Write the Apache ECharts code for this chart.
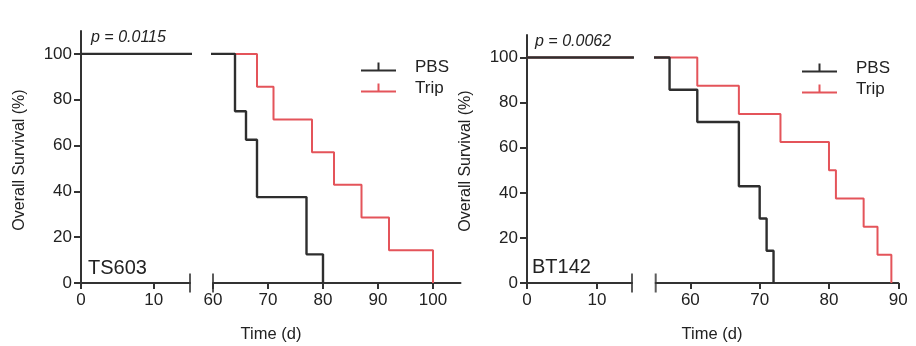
<!DOCTYPE html>
<html>
<head>
<meta charset="utf-8">
<script src="https://cdn.jsdelivr.net/npm/echarts@6/dist/echarts.min.js"></script>
<style>
html,body{margin:0;padding:0;background:#fff;}
#chart{width:916px;height:346px;}
</style>
</head>
<body>
<div id="chart"></div>
<script>
// ---- data ----
const seriesNames = ['PBS', 'Trip'];
// TS603 panel
const ts603PbsTime = [0, 64, 66, 68, 77, 80];
const ts603PbsSurv = [100, 75, 62.5, 37.5, 12.5, 0];
const ts603TripTime = [0, 68, 71, 78, 82, 87, 92, 100];
const ts603TripSurv = [100, 85.7, 71.4, 57.1, 42.9, 28.6, 14.3, 0];
// BT142 panel
const bt142PbsTime = [0, 57, 61, 67, 70, 71, 72];
const bt142PbsSurv = [100, 85.7, 71.4, 42.9, 28.6, 14.3, 0];
const bt142TripTime = [0, 61, 67, 73, 80, 81, 85, 87, 89];
const bt142TripSurv = [100, 87.5, 75, 62.5, 50, 37.5, 25, 12.5, 0];
// axis ranges / ticks
const leftSegRange = [0, 15];
const leftSegTicks = [0, 10];
const ts603RightRange = [60, 105];
const ts603RightTicks = [60, 70, 80, 90, 100];
const bt142RightRange = [55, 90];
const bt142RightTicks = [60, 70, 80, 90];
const yRange = [0, 110];
const yTicks = [0, 20, 40, 60, 80, 100];
const pValues = ['p = 0.0115', 'p = 0.0062'];
const panelNames = ['TS603', 'BT142'];

// ---- styles ----
const BLACK = '#2e2e2e';
const RED = '#e4545a';
const AXIS = '#333';
const TXT = '#222';
const FONT = 'Liberation Sans, Arial, Helvetica, sans-serif';

function pts(t, s) { return t.map((v, i) => [v, s[i]]); }

const grids = [
  { left: 81, top: 31, width: 109, height: 252 },
  { left: 213, top: 31, width: 247.5, height: 252 },
  { left: 527, top: 35, width: 105, height: 248 },
  { left: 655.7, top: 35, width: 242.6, height: 248 }
];
const xRanges = [leftSegRange, ts603RightRange, leftSegRange, bt142RightRange];
const xTickVals = [leftSegTicks, ts603RightTicks, leftSegTicks, bt142RightTicks];
const breakAt = [leftSegRange[1], ts603RightRange[0], leftSegRange[1], bt142RightRange[0]];

const xAxes = grids.map((g, i) => ({
  type: 'value', gridIndex: i, min: xRanges[i][0], max: xRanges[i][1],
  axisLine: { show: true, onZero: false, lineStyle: { color: AXIS, width: 2 } },
  axisTick: { show: true, length: 6, inside: false, customValues: xTickVals[i], lineStyle: { color: AXIS, width: 2 } },
  axisLabel: { customValues: xTickVals[i], margin: 9, fontSize: 17, color: TXT, fontFamily: FONT },
  splitLine: { show: false }
}));
const yAxes = grids.map((g, i) => ({
  type: 'value', gridIndex: i, min: yRange[0], max: yRange[1],
  show: (i === 0 || i === 2),
  axisLine: { show: true, lineStyle: { color: AXIS, width: 2 } },
  axisTick: { show: true, length: 7, customValues: yTicks, lineStyle: { color: AXIS, width: 2 } },
  axisLabel: { customValues: yTicks, margin: 9, fontSize: 17, color: TXT, fontFamily: FONT },
  splitLine: { show: false }
}));

const panelData = [
  { pbs: pts(ts603PbsTime, ts603PbsSurv), trip: pts(ts603TripTime, ts603TripSurv) },
  { pbs: pts(bt142PbsTime, bt142PbsSurv), trip: pts(bt142TripTime, bt142TripSurv) }
];

const series = [];
grids.forEach((g, i) => {
  const p = panelData[i < 2 ? 0 : 1];
  series.push({
    type: 'line', name: seriesNames[1], xAxisIndex: i, yAxisIndex: i, data: p.trip,
    step: 'end', showSymbol: false, symbol: 'none', clip: true, color: RED,
    lineStyle: { color: RED, width: 2 }, animation: false, z: 2
  });
  series.push({
    type: 'line', name: seriesNames[0], xAxisIndex: i, yAxisIndex: i, data: p.pbs,
    step: 'end', showSymbol: false, symbol: 'none', clip: true, color: BLACK,
    lineStyle: { color: BLACK, width: 2.4 }, animation: false, z: 3
  });
  series.push({
    type: 'scatter', name: 'break', xAxisIndex: i, yAxisIndex: i, data: [[breakAt[i], yRange[0]]],
    symbol: 'rect', symbolSize: [2, 19], clip: false, itemStyle: { color: AXIS }, animation: false, silent: true, z: 4
  });
});

const legendIcon = 'path://M0,7L35,7L35,9L0,9Z M16.5,0L18.5,0L18.5,7L16.5,7Z';
function legend(left, top) {
  return {
    data: seriesNames.map(n => ({ name: n, icon: legendIcon })),
    orient: 'vertical', left: left, top: top, padding: 0,
    itemWidth: 35, itemHeight: 9, itemGap: 1,
    textStyle: { fontSize: 17, color: TXT, fontFamily: FONT, lineHeight: 20, padding: [0, 0, 0, 14] },
    selectedMode: false
  };
}

function txt(x, y, text, size, opts) {
  return Object.assign({
    type: 'text', x: x, y: y,
    style: Object.assign({ text: text, fontSize: size, fontFamily: FONT, fill: TXT, align: 'left', verticalAlign: 'middle' }, opts || {})
  });
}

const graphics = [
  txt(91, 38, pValues[0], 16, { fontStyle: 'italic' }),
  txt(535, 42, pValues[1], 16, { fontStyle: 'italic' }),
  txt(88, 268, panelNames[0], 20),
  txt(532, 267, panelNames[1], 20),
  txt(271, 334, 'Time (d)', 16.5, { align: 'center' }),
  txt(712, 334, 'Time (d)', 16.5, { align: 'center' }),
  Object.assign(txt(20, 160, 'Overall Survival (%)', 16, { align: 'center' }), { rotation: Math.PI / 2 }),
  Object.assign(txt(465.5, 161, 'Overall Survival (%)', 16, { align: 'center' }), { rotation: Math.PI / 2 })
];

const chart = echarts.init(document.getElementById('chart'), null, { renderer: 'canvas' });
chart.setOption({
  animation: false,
  backgroundColor: '#fff',
  grid: grids,
  xAxis: xAxes,
  yAxis: yAxes,
  legend: [legend(361, 57), legend(802, 58)],
  series: series,
  graphic: graphics
});
</script>
</body>
</html>
